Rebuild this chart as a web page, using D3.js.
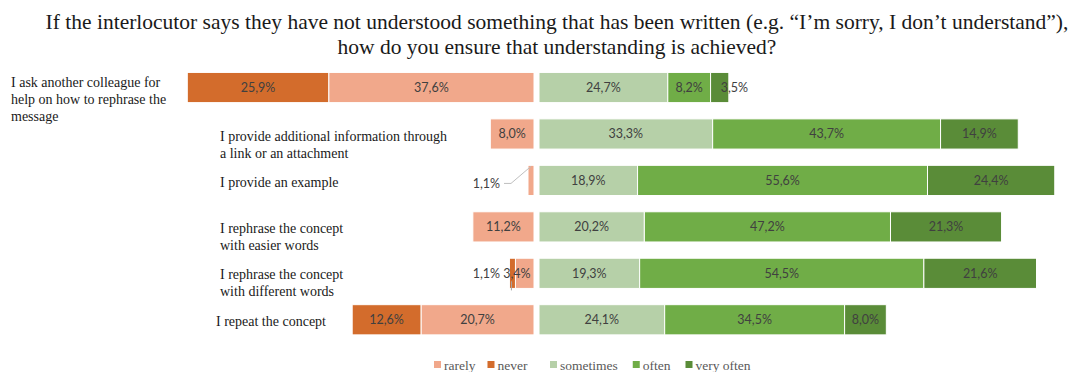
<!DOCTYPE html>
<html>
<head>
<meta charset="utf-8">
<script src="https://cdn.jsdelivr.net/npm/d3@7"></script>
<style>
  html, body { margin: 0; padding: 0; background: #fff; }
  svg { display: block; }
</style>
</head>
<body>
<svg id="chart" width="1088" height="372"></svg>
<script>
// Survey answers per strategy (percent of respondents)
const categories = [
  "I ask another colleague for\nhelp on how to rephrase the\nmessage",
  "I provide additional information through\na link or an attachment",
  "I provide an example",
  "I rephrase the concept\nwith easier words",
  "I rephrase the concept\nwith different words",
  "I repeat the concept"
];
const never     = [25.9, 0,    0,    0,    1.1,  12.6];
const rarely    = [37.6, 8.0,  1.1,  11.2, 3.4,  20.7];
const sometimes = [24.7, 33.3, 18.9, 20.2, 19.3, 24.1];
const often     = [8.2,  43.7, 55.6, 47.2, 54.5, 34.5];
const veryOften = [3.5,  14.9, 24.4, 21.3, 21.6, 8.0];

const seriesNames = ["rarely", "never", "sometimes", "often", "very often"];
const titleLines = [
  "If the interlocutor says they have not understood something that has been written (e.g. \u201cI\u2019m sorry, I don\u2019t understand\u201d),",
  "how do you ensure that understanding is achieved?"
];

const colors = {
  "never": "#D36C2C",
  "rarely": "#F1A88B",
  "sometimes": "#B6D0A8",
  "often": "#70AD47",
  "very often": "#5A8C38"
};

const svg = d3.select("#chart");
const serif = "Liberation Serif, serif";
const sans = "Lato, Liberation Sans, sans-serif";

// Title
svg.append("g").selectAll("text").data(titleLines).join("text")
  .attr("x", 557).attr("y", (d, i) => 29 + i * 25)
  .attr("text-anchor", "middle")
  .attr("font-family", serif).attr("font-size", 21.5)
  .attr("fill", "#1a1a1a")
  .text(d => d);

// Scales: disagreeing answers extend left of the gap, agreeing ones to the right
const y = d3.scaleBand().domain(d3.range(categories.length))
  .range([64.3, 343]).paddingInner(0.35).paddingOuter(0.175);
const xNeg = d3.scaleLinear().domain([0, 70]).range([534, 534 - 70 * 5.46]);
const xPos = d3.scaleLinear().domain([0, 100]).range([539, 539 + 521.5]);

// Build segments
const segs = [];
categories.forEach((c, i) => {
  let acc = 0;
  [["rarely", rarely[i]], ["never", never[i]]].forEach(([k, v]) => {
    if (v > 0) segs.push({ row: i, key: k, v, x0: xNeg(acc + v), x1: xNeg(acc) });
    acc += v;
  });
  acc = 0;
  [["sometimes", sometimes[i]], ["often", often[i]], ["very often", veryOften[i]]].forEach(([k, v]) => {
    if (v > 0) segs.push({ row: i, key: k, v, x0: xPos(acc), x1: xPos(acc + v) });
    acc += v;
  });
});

const fmt = v => d3.format(".1f")(v).replace(".", ",") + "%";

svg.append("g").selectAll("rect").data(segs).join("rect")
  .attr("x", d => d.x0).attr("y", d => y(d.row))
  .attr("width", d => d.x1 - d.x0).attr("height", y.bandwidth())
  .attr("fill", d => colors[d.key])
  .attr("stroke", "#fff").attr("stroke-width", 1);

// Value labels
const labelG = svg.append("g")
  .attr("font-family", sans).attr("font-size", 12.5).attr("fill", "#404040");

segs.forEach(d => {
  const cy = y(d.row) + y.bandwidth() / 2;
  const w = d.x1 - d.x0;
  let x = (d.x0 + d.x1) / 2, anchor = "middle", ty = cy;
  if (w < 8) {
    // thin negative slices: label sits outside, joined by a leader line
    x = 500; anchor = "end";
    if (d.key === "rarely") {
      ty = cy + 3;
      labelG.append("path")
        .attr("d", d3.line()([[504, ty], [511, ty], [(d.x0 + d.x1) / 2, y(d.row) + 1]]))
        .attr("fill", "none").attr("stroke", "#bfbfbf").attr("stroke-width", 1);
    } else {
      const lx = (d.x0 + d.x1) / 2 - 1;
      labelG.append("line")
        .attr("x1", lx).attr("x2", lx).attr("y1", cy + 8).attr("y2", y(d.row) + y.bandwidth() + 2)
        .attr("stroke", "#a6a6a6").attr("stroke-width", 1);
    }
  } else if (w < 30) {
    if (d.key === "very often") { x = (d.x0 + d.x1) / 2 + 1; anchor = "start"; }
    else { x = d.x0 + 1.5; }
  }
  labelG.append("text")
    .attr("x", x).attr("y", ty).attr("dy", "0.35em")
    .attr("text-anchor", anchor)
    .text(fmt(d.v));
});

// Category labels
const labelLayout = [
  { x: 11, dy: -5.5 }, { x: 220, dy: 2 }, { x: 220, dy: 2 },
  { x: 220, dy: 1 }, { x: 220, dy: 1 }, { x: 216, dy: 1 }
];
const catG = svg.append("g")
  .attr("font-family", serif).attr("font-size", 14).attr("fill", "#1a1a1a");
categories.forEach((c, i) => {
  const cy = y(i) + y.bandwidth() / 2 + labelLayout[i].dy;
  const t = catG.append("text").attr("x", labelLayout[i].x).attr("y", cy);
  c.split("\n").forEach((line, j) => {
    t.append("tspan").attr("x", labelLayout[i].x).attr("dy", j === 0 ? "0.35em" : 17).text(line);
  });
});

// Legend
const legendG = svg.append("g")
  .attr("font-family", serif).attr("font-size", 13.5).attr("fill", "#595959");
const groups = [["rarely", "never"], ["sometimes", "often", "very often"]];
const groupStart = [434, 550];
const groupGap = [12, 15];
groups.forEach((grp, gi) => {
  let x = groupStart[gi];
  grp.forEach(name => {
    legendG.append("rect").attr("x", x).attr("y", 361).attr("width", 7).attr("height", 7)
      .attr("fill", colors[name]);
    const t = legendG.append("text").attr("x", x + 10).attr("y", 365).attr("dy", "0.35em").text(name);
    x += 10 + t.node().getComputedTextLength() + groupGap[gi];
  });
});
</script>
</body>
</html>
